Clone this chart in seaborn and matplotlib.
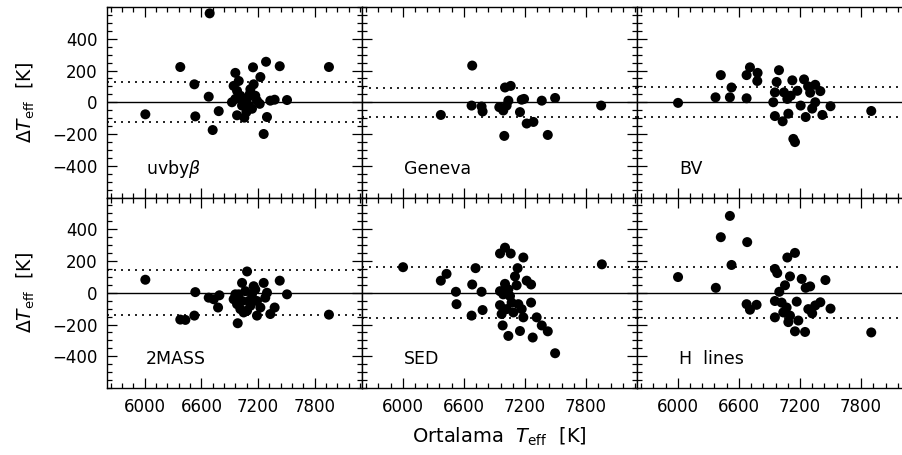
import numpy as np
import pandas as pd
import matplotlib
matplotlib.use("Agg")
import matplotlib.pyplot as plt
import seaborn as sns
from matplotlib.ticker import MultipleLocator

# ---------------- data ----------------
teff_uvby = [6006, 6376, 6525, 6535, 6687, 6677, 6719, 6783, 6959, 6977, 7054, 7146, 7224,
             7284, 7429, 7294, 7259, 7329, 7375, 7506, 7950, 6941, 6977, 7012, 7047, 7083,
             7100, 7135, 7118, 7153, 6995, 6959, 7030, 7188, 7076, 7111, 7170, 6923, 7217]
dt_uvby = [-76, 222, 113, -89, 560, 35, -175, -56, 185, -82, -97, 220, 159,
           255, 227, -93, -200, 10, 16, 14, 222, 103, 72, 41, 10, 21,
           -21, -41, 82, 113, 134, 21, -21, 10, -62, 51, 41, 0, -10]

teff_gen = [6374, 6682, 6676, 6774, 6784, 6948, 6987, 7004, 7060, 7037, 7020, 6997, 7151,
            7168, 7191, 7217, 7283, 7365, 7424, 7496, 7948]
dt_gen = [-80, 231, -21, -27, -58, -31, -52, 93, 103, 10, -21, -212, -62,
          16, 21, -134, -124, 10, -206, 27, -21]

teff_bv = [6003, 6371, 6423, 6512, 6528, 6676, 6676, 6709, 6784, 6781, 6994, 6971, 6954,
           6938, 6954, 7030, 7086, 7125, 7135, 7151, 7043, 7076, 7109, 7174, 7207, 7240,
           7256, 7300, 7350, 7400, 7500, 7420, 7320, 7280, 7350, 7900]
dt_bv = [-4, 31, 171, 31, 93, 25, 171, 220, 185, 134, 202, 128, 62,
         0, -87, -120, -72, 138, -231, -251, 62, 21, 41, 72, -21, 144,
         -93, 60, 110, 70, -25, -80, -40, 100, 0, -55]

teff_2m = [6006, 6535, 6525, 6376, 6430, 6677, 6730, 6790, 6776, 7083, 6984, 7030, 6959,
           6977, 7012, 7047, 7100, 7153, 7188, 7259, 7294, 7276, 7329, 7375, 7429, 7506,
           7950, 6941, 6995, 7065, 7118, 7135, 7188, 7224, 7083, 7170, 7030]
dt_2m = [82, 4, -144, -169, -171, -31, -41, -16, -93, 134, -192, 62, -10,
         -72, -103, -124, -52, 41, -144, 62, 0, -31, -134, -93, 76, -10,
         -138, -41, -10, 10, -82, -10, -52, -93, -113, 21, -52]

teff_sed = [6003, 6430, 6374, 6522, 6528, 6682, 6715, 6676, 6774, 6784, 6955, 7004, 7060,
            7184, 7128, 7102, 7217, 7260, 7004, 6955, 6987, 7037, 7118, 6955, 6971, 7020,
            7069, 7135, 7168, 7184, 7260, 6981, 7037, 7151, 7276, 7315, 7365, 7424, 7496,
            7086, 7053, 7955]
dt_sed = [161, 119, 76, 6, -72, 52, 155, -144, 6, -109, 247, 284, 247,
          222, 155, 103, 76, 52, 56, 10, -10, 21, 47, -78, -134, -103,
          -62, -72, -103, -155, -62, -206, -272, -241, -282, -155, -206, -243, -381,
          -124, -21, 179]

teff_h = [6003, 6374, 6423, 6512, 6528, 6682, 6676, 6709, 6774, 6954, 6977, 7076, 7151,
          7102, 7217, 7053, 6997, 6954, 7020, 7069, 6954, 7036, 7102, 7086, 7151, 7168,
          7184, 7256, 7250, 7282, 7300, 7350, 7400, 7450, 7500, 7320, 7900]
dt_h = [99, 31, 350, 484, 175, 319, -72, -107, -76, 150, 124, 222, 251,
        103, 87, 47, 6, -52, -62, -93, -155, -124, -144, -185, -243, -56,
        -175, 31, -247, -103, 40, -80, -60, 80, -100, -130, -250]

method_labels = ["uvby$\\beta$", "Geneva", "BV", "2MASS", "SED", "H  lines"]
sigmas = [125, 92, 95, 141, 162, 160]
x_ticks = [6000, 6600, 7200, 7800]
y_ticks = [-400, -200, 0, 200, 400]

series = [(teff_uvby, dt_uvby), (teff_gen, dt_gen), (teff_bv, dt_bv),
          (teff_2m, dt_2m), (teff_sed, dt_sed), (teff_h, dt_h)]

# ---------------- figure ----------------
sns.set_theme(style="ticks")
plt.rcParams['font.family'] = ['DejaVu Sans']
plt.rcParams['mathtext.fontset'] = 'dejavusans'
plt.rcParams['text.color'] = 'black'
plt.rcParams['xtick.color'] = 'black'
plt.rcParams['ytick.color'] = 'black'
plt.rcParams['xtick.labelcolor'] = 'black'
plt.rcParams['ytick.labelcolor'] = 'black'

FW, FH = 903, 455
fig = plt.figure(figsize=(FW / 100, FH / 100), dpi=100)
fig.patch.set_facecolor('white')

# panel geometry in pixels (measured on the reference)
col_left = [107, 362, 637]
col_width = [255, 275, 275]
TOP, H = 7, 190.5
FS = 12

for i, ((tx, dy), lab, sig) in enumerate(zip(series, method_labels, sigmas)):
    r, c = divmod(i, 3)
    x0 = col_left[c]
    w = col_width[c]
    y0 = TOP + r * H
    ax = fig.add_axes([x0 / FW, 1 - (y0 + H) / FH, w / FW, H / FH])
    df = pd.DataFrame({"Teff": tx, "dT": dy})
    sns.scatterplot(data=df, x="Teff", y="dT", ax=ax, color="black",
                    s=52, edgecolor="none", linewidth=0, legend=False, zorder=3)
    ax.axhline(0, color="black", lw=1.0, zorder=2)
    ax.axhline(sig, color="black", lw=1.2, ls=(0, (1.2, 3.0)), zorder=2)
    ax.axhline(-sig, color="black", lw=1.2, ls=(0, (1.2, 3.0)), zorder=2)
    ax.set_xlim(5600, 8300)
    ax.set_ylim(-600, 600)
    ax.xaxis.set_major_locator(MultipleLocator(600))
    ax.xaxis.set_minor_locator(MultipleLocator(120))
    ax.yaxis.set_major_locator(MultipleLocator(200))
    ax.yaxis.set_minor_locator(MultipleLocator(50))
    ax.set_xticks(x_ticks)
    ax.set_yticks(y_ticks)
    ax.tick_params(which="both", direction="in", top=True, right=True,
                   color="black", labelcolor="black", width=0.9, labelsize=FS, pad=7)
    ax.tick_params(which="major", length=7)
    ax.tick_params(which="minor", length=3.5)
    for sp in ax.spines.values():
        sp.set_linewidth(1.0)
        sp.set_color("black")
    ax.set_xlabel("")
    ax.set_ylabel("")
    if c != 0:
        ax.set_yticklabels([])
    if r != 1:
        ax.set_xticklabels([])
    ax.text(6010, -420, lab, fontsize=FS + 0.5, ha="left", va="center", color="black")
    ax.set_facecolor("white")

# axis titles
for r in range(2):
    yc = TOP + r * H + H / 2
    fig.text(26 / FW, 1 - yc / FH, r"$\Delta T_{\rm eff}$  [K]", rotation=90,
             ha="center", va="center", fontsize=13.5, color="black")
fig.text((col_left[1] + col_width[1] / 2) / FW, 1 - 437 / FH,
         r"Ortalama  $T_{\rm eff}$  [K]", ha="center", va="center", fontsize=14,
         color="black")

fig.savefig("out.png", dpi=100, facecolor="white")
